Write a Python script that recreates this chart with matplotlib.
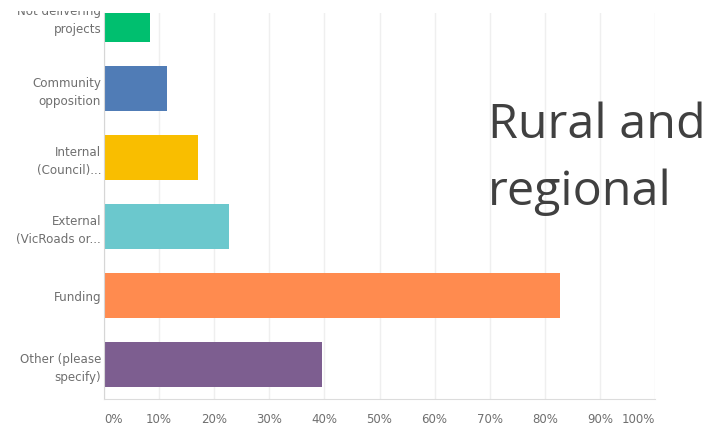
import matplotlib
matplotlib.use('Agg')
import matplotlib.pyplot as plt
import matplotlib.transforms as mtransforms
from matplotlib.transforms import Bbox

# data (percent of respondents)
categories = ['Not delivering\nprojects', 'Community\nopposition', 'Internal\n(Council)...',
              'External\n(VicRoads or...', 'Funding', 'Other (please\nspecify)']
values = [8.4, 11.4, 17.0, 22.7, 82.8, 39.6]
colors = ['#00BF6F', '#507CB6', '#F9BE00', '#6BC8CD', '#FF8B4F', '#7D5E90']
ticks = [0, 10, 20, 30, 40, 50, 60, 70, 80, 90, 100]
tick_labels = [f'{t}%' for t in ticks]

W, H = 708, 438
fig = plt.figure(figsize=(W / 100, H / 100), dpi=100)
ax = fig.add_axes([104 / W, (H - 399) / H, (655 - 104) / W, (399 - 12.7) / H])

pos = list(range(len(categories)))
ax.barh(pos, values, height=0.65, color=colors, zorder=2)

ax.set_xlim(0, 100)
ax.set_ylim(5.5, -0.1)
ax.set_xticks(ticks)
ax.set_xticklabels(tick_labels)
ax.set_yticks(pos)
ax.set_yticklabels(categories, linespacing=1.45)

ax.grid(axis='x', color='#efefef', linewidth=1, zorder=0)
ax.tick_params(axis='x', length=0, pad=10, labelsize=8.5, labelcolor='#6f6f6f')
ax.tick_params(axis='y', length=0, pad=2, labelsize=8.6, labelcolor='#6f6f6f')
for s in ['top', 'right']:
    ax.spines[s].set_visible(False)
ax.spines['bottom'].set_color('#dcdcdc')
ax.spines['left'].set_color('#d6d6d6')

xl = ax.get_xticklabels()
xl[0].set_ha('left')
xl[-1].set_ha('right')

# top label is cut off in the reference (screenshot crop)
clip = Bbox.from_extents(0, 0, W, H - 10.5)
first = ax.yaxis.get_major_ticks()[0].label1
first.set_transform(first.get_transform() +
                    mtransforms.ScaledTranslation(0, 3 / 100, fig.dpi_scale_trans))
first.set_clip_box(clip)
first.set_clip_on(True)

fig.text(488 / W, 1 - 138 / H, 'Rural and', fontsize=34.8, family='Open Sans',
         color='#404040', va='baseline', ha='left')
fig.text(488 / W, 1 - 205 / H, 'regional', fontsize=34.8, family='Open Sans',
         color='#404040', va='baseline', ha='left')

fig.savefig('out.png', dpi=100)
